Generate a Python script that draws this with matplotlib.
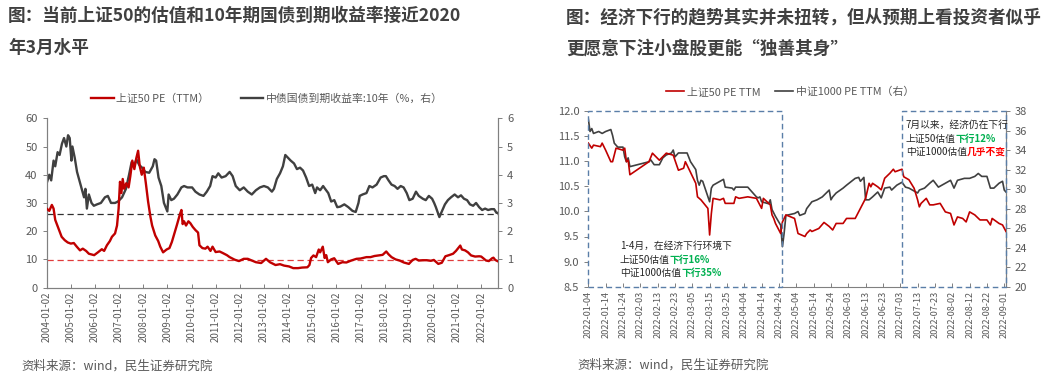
import matplotlib
matplotlib.use("Agg")
import matplotlib.pyplot as plt
import matplotlib.dates as mdates
from matplotlib.patches import Rectangle
import pandas as pd

plt.rcParams['font.family'] = ['Noto Sans CJK SC', 'DejaVu Sans']
plt.rcParams['axes.unicode_minus'] = False

# ---------------- Left chart data ----------------
pe50_dates = ["2004-01-02","2004-02-10","2004-03-20","2004-04-15","2004-05-10","2004-07-01","2004-08-15","2004-10-01",
              "2004-11-15","2005-01-01","2005-02-15","2005-04-01","2005-05-20","2005-07-01","2005-08-20","2005-10-01",
              "2005-12-20","2006-02-15","2006-04-15","2006-05-20","2006-07-01","2006-08-15","2006-09-15","2006-11-01",
              "2006-12-01","2006-12-25","2007-01-15","2007-02-05","2007-02-25","2007-03-20","2007-04-20","2007-05-25",
              "2007-06-20","2007-07-20","2007-08-20","2007-09-20","2007-10-16","2007-11-10","2007-12-10","2008-01-10",
              "2008-02-10","2008-03-15","2008-04-20","2008-05-15","2008-07-01","2008-08-15","2008-09-15","2008-10-28",
              "2008-12-20","2009-02-01","2009-03-10","2009-04-15","2009-05-25","2009-07-10","2009-08-01","2009-08-20",
              "2009-09-10","2009-10-10","2009-11-15","2009-12-15","2010-01-20","2010-03-01","2010-04-10","2010-05-01",
              "2010-06-15","2010-07-30","2010-09-01","2010-10-15","2010-11-15","2011-01-01","2011-03-01","2011-04-15",
              "2011-06-20","2011-08-01","2011-10-15","2011-12-20","2012-03-01","2012-05-01","2012-07-01","2012-09-01",
              "2012-11-20","2013-02-01","2013-04-01","2013-06-25","2013-09-01","2013-11-01","2014-01-15","2014-03-20",
              "2014-06-01","2014-08-01","2014-10-20","2014-11-20","2014-12-15","2015-01-20","2015-03-01","2015-04-10",
              "2015-05-01","2015-06-10","2015-07-08","2015-08-01","2015-08-26","2015-10-15","2015-11-30","2016-01-28",
              "2016-04-01","2016-06-01","2016-08-15","2016-11-01","2017-01-01","2017-04-01","2017-06-01","2017-08-01",
              "2017-10-01","2017-12-01","2018-01-25","2018-03-01","2018-04-15","2018-06-15","2018-08-15","2018-10-18",
              "2019-01-03","2019-03-01","2019-04-15","2019-06-01","2019-08-01","2019-10-01","2019-12-01","2020-01-15",
              "2020-03-23","2020-05-15","2020-07-08","2020-09-01","2020-11-01","2020-12-15","2021-02-18","2021-03-15",
              "2021-05-01","2021-06-15","2021-08-01","2021-10-01","2021-12-01","2022-01-01","2022-03-15","2022-04-26",
              "2022-06-15","2022-07-05","2022-08-01","2022-09-12"]
pe50_values = [28.0,27.2,29.3,28.0,24.0,20.8,18.0,16.8,
               16.0,15.6,15.8,14.5,13.2,13.8,13.0,12.0,
               11.5,12.5,13.6,13.0,15.0,16.5,18.0,19.2,
               22.0,28.0,37.5,33.5,38.5,35.0,37.0,35.5,
               39.5,45.0,42.0,46.0,48.5,43.0,40.0,42.5,
               37.0,30.5,25.0,22.0,18.5,16.5,14.5,12.5,
               13.5,14.0,16.2,19.0,22.2,26.0,27.5,22.5,
               23.5,22.0,23.5,22.8,21.5,20.4,19.5,15.0,
               14.0,13.8,14.5,13.0,14.5,12.6,12.8,12.3,
               11.5,10.8,9.9,9.4,10.2,10.2,9.6,9.0,
               8.7,10.2,9.0,8.0,8.3,7.8,7.5,6.9,
               6.9,7.1,7.2,8.0,10.5,11.4,10.8,13.5,
               12.5,14.5,10.5,11.5,9.0,10.0,10.4,8.4,
               9.0,8.9,9.6,10.2,10.3,10.8,10.8,11.2,
               11.4,11.6,12.8,11.8,10.8,10.0,9.6,8.9,
               8.4,9.8,10.2,9.6,9.7,9.7,9.5,9.8,
               8.4,8.8,11.1,11.5,12.0,13.0,14.9,13.5,
               13.2,12.5,11.4,11.0,11.1,11.0,9.6,9.4,
               10.4,10.6,9.8,9.3]

bond_dates = ["2004-01-02","2004-02-10","2004-03-10","2004-04-15","2004-05-10","2004-06-15","2004-07-15","2004-08-20",
              "2004-09-20","2004-10-25","2004-11-20","2004-12-15","2005-01-10","2005-01-25","2005-03-01","2005-04-05",
              "2005-05-10","2005-06-15","2005-07-20","2005-08-10","2005-09-01","2005-10-01","2005-11-10","2005-12-15",
              "2006-02-01","2006-04-01","2006-06-01","2006-07-15","2006-09-01","2006-11-01","2006-12-15","2007-02-15",
              "2007-04-15","2007-06-01","2007-07-10","2007-08-15","2007-09-20","2007-11-01","2007-12-15","2008-02-01",
              "2008-04-01","2008-05-25","2008-06-20","2008-07-15","2008-08-20","2008-10-01","2008-11-10","2008-12-31",
              "2009-01-20","2009-03-01","2009-04-10","2009-06-01","2009-08-01","2009-09-10","2009-11-01","2010-01-10",
              "2010-03-01","2010-05-01","2010-07-01","2010-08-20","2010-10-10","2010-11-15","2011-01-01","2011-02-10",
              "2011-04-01","2011-06-01","2011-08-01","2011-09-15","2011-11-01","2012-01-01","2012-03-01","2012-05-01",
              "2012-07-01","2012-09-01","2012-11-01","2013-01-01","2013-03-01","2013-05-01","2013-06-01","2013-07-15",
              "2013-09-01","2013-10-15","2013-11-20","2014-01-01","2014-02-10","2014-04-01","2014-05-15","2014-07-01",
              "2014-08-15","2014-10-01","2014-11-15","2015-01-01","2015-02-15","2015-03-15","2015-05-01","2015-06-15",
              "2015-07-15","2015-09-01","2015-10-15","2015-12-01","2016-01-15","2016-03-01","2016-05-01","2016-07-01",
              "2016-09-01","2016-10-20","2016-12-01","2016-12-20","2017-02-01","2017-04-01","2017-05-15","2017-07-01",
              "2017-09-01","2017-11-01","2017-12-20","2018-01-20","2018-03-01","2018-04-15","2018-06-01","2018-07-15",
              "2018-09-01","2018-10-15","2018-12-01","2019-01-10","2019-03-01","2019-04-20","2019-06-01","2019-08-01",
              "2019-09-15","2019-11-01","2019-12-20","2020-01-20","2020-02-15","2020-04-08","2020-05-15","2020-07-01",
              "2020-08-15","2020-10-01","2020-11-25","2021-01-15","2021-03-01","2021-04-15","2021-06-01","2021-07-15",
              "2021-09-01","2021-10-15","2021-12-01","2022-01-15","2022-03-01","2022-04-15","2022-06-01","2022-07-15",
              "2022-08-20","2022-09-12"]
bond_values = [3.7,4.0,3.8,4.5,4.3,4.8,4.7,5.1,
               5.3,5.0,5.4,5.3,4.5,5.0,4.6,4.1,
               3.8,3.5,3.2,3.5,2.8,3.3,3.0,2.9,
               2.95,3.0,3.2,3.25,3.0,3.0,3.05,3.2,
               3.5,4.0,4.45,4.3,4.55,4.35,4.25,4.1,
               4.07,4.3,4.55,4.5,3.9,3.6,3.0,2.7,
               3.3,3.1,3.15,3.3,3.55,3.6,3.55,3.55,
               3.4,3.3,3.25,3.4,3.6,3.95,3.9,4.05,
               3.9,3.95,4.1,3.95,3.6,3.45,3.55,3.4,
               3.3,3.45,3.55,3.6,3.55,3.4,3.5,3.85,
               4.05,4.3,4.7,4.6,4.5,4.4,4.2,4.25,
               4.15,3.9,3.6,3.65,3.35,3.55,3.45,3.6,
               3.5,3.35,3.05,3.1,2.85,2.87,2.95,2.85,
               2.72,2.68,3.0,3.25,3.3,3.35,3.6,3.55,
               3.65,3.9,3.95,3.95,3.8,3.65,3.6,3.5,
               3.6,3.55,3.35,3.1,3.15,3.4,3.25,3.15,
               3.1,3.25,3.15,3.0,2.85,2.5,2.7,2.95,
               3.1,3.2,3.3,3.2,3.27,3.15,3.1,2.95,
               2.9,3.0,2.85,2.75,2.8,2.75,2.78,2.78,
               2.65,2.65]

pe50_ref = 9.7
bond_ref = 2.62
left_tick_dates = [f"{y}-01-02" for y in range(2004, 2023)]

# ---------------- Right chart data ----------------
r_pe50_dates = ["2022-01-04","2022-01-06","2022-01-07","2022-01-11","2022-01-12","2022-01-14","2022-01-17","2022-01-18",
                "2022-01-20","2022-01-24","2022-01-25","2022-01-26","2022-01-27","2022-01-28","2022-02-08","2022-02-10",
                "2022-02-14","2022-02-16","2022-02-18","2022-02-22","2022-02-25","2022-02-28","2022-03-01","2022-03-02",
                "2022-03-07","2022-03-08","2022-03-10","2022-03-14","2022-03-15","2022-03-16","2022-03-17","2022-03-21",
                "2022-03-23","2022-03-24","2022-03-29","2022-03-30","2022-04-01","2022-04-06","2022-04-11","2022-04-14",
                "2022-04-15","2022-04-19","2022-04-20","2022-04-21","2022-04-22","2022-04-25","2022-04-26","2022-04-28",
                "2022-05-03","2022-05-05","2022-05-09","2022-05-10","2022-05-12","2022-05-13","2022-05-17","2022-05-20",
                "2022-05-23","2022-05-25","2022-05-27","2022-05-31","2022-06-02","2022-06-07","2022-06-10","2022-06-13",
                "2022-06-15","2022-06-16","2022-06-17","2022-06-20","2022-06-22","2022-06-24","2022-06-27","2022-06-29",
                "2022-06-30","2022-07-04","2022-07-05","2022-07-08","2022-07-11","2022-07-13","2022-07-14","2022-07-15",
                "2022-07-18","2022-07-20","2022-07-22","2022-07-26","2022-07-29","2022-08-01","2022-08-03","2022-08-05",
                "2022-08-08","2022-08-10","2022-08-12","2022-08-15","2022-08-18","2022-08-22","2022-08-24","2022-08-25",
                "2022-08-29","2022-08-31","2022-09-02"]
r_pe50_values = [11.36,11.26,11.32,11.29,11.36,11.22,10.99,10.99,
                 11.26,11.22,11.26,10.99,11.02,10.73,10.99,11.16,
                 11.02,11.09,11.16,11.12,10.82,10.86,10.99,10.92,
                 10.56,10.29,10.23,10.06,9.53,9.96,10.26,10.23,
                 10.26,10.16,10.16,10.29,10.26,10.29,10.26,10.06,
                 10.26,10.13,9.93,9.86,9.76,9.56,9.79,9.93,
                 9.86,9.56,9.50,9.56,9.63,9.60,9.66,9.78,
                 9.70,9.63,9.76,9.76,9.86,9.86,10.06,10.26,
                 10.56,10.49,10.56,10.49,10.43,10.66,10.76,10.84,
                 10.79,10.84,10.69,10.63,10.46,10.23,10.09,10.16,
                 10.26,10.13,10.13,10.16,9.99,9.96,9.73,9.89,
                 9.86,9.79,9.99,9.93,9.83,9.83,9.73,9.86,
                 9.76,9.73,9.60]

r_csi_dates = ["2022-01-04","2022-01-05","2022-01-06","2022-01-07","2022-01-10","2022-01-12","2022-01-14","2022-01-17",
               "2022-01-18","2022-01-19","2022-01-21","2022-01-24","2022-01-25","2022-01-26","2022-01-27","2022-01-28",
               "2022-02-08","2022-02-09","2022-02-11","2022-02-14","2022-02-16","2022-02-18","2022-02-21","2022-02-22",
               "2022-02-23","2022-02-25","2022-03-02","2022-03-04","2022-03-07","2022-03-08","2022-03-09","2022-03-10",
               "2022-03-11","2022-03-15","2022-03-16","2022-03-17","2022-03-21","2022-03-23","2022-03-24","2022-03-28",
               "2022-03-29","2022-03-30","2022-04-06","2022-04-11","2022-04-12","2022-04-13","2022-04-14","2022-04-18",
               "2022-04-19","2022-04-20","2022-04-22","2022-04-25","2022-04-26","2022-04-27","2022-04-28","2022-05-03",
               "2022-05-05","2022-05-06","2022-05-09","2022-05-10","2022-05-13","2022-05-16","2022-05-19","2022-05-23",
               "2022-05-24","2022-05-25","2022-05-27","2022-05-31","2022-06-02","2022-06-07","2022-06-09","2022-06-10",
               "2022-06-12","2022-06-13","2022-06-15","2022-06-17","2022-06-20","2022-06-22","2022-06-24","2022-06-27",
               "2022-06-28","2022-07-01","2022-07-04","2022-07-06","2022-07-08","2022-07-12","2022-07-13","2022-07-14",
               "2022-07-17","2022-07-20","2022-07-22","2022-07-25","2022-07-28","2022-08-01","2022-08-03","2022-08-05",
               "2022-08-09","2022-08-12","2022-08-15","2022-08-17","2022-08-19","2022-08-22","2022-08-24","2022-08-26",
               "2022-08-29","2022-08-31","2022-09-01","2022-09-02"]
r_csi_values = [37.2,35.9,36.2,35.7,35.9,35.7,35.9,36.1,
                35.5,34.7,34.3,34.3,33.3,32.8,33.2,32.3,
                32.8,33.0,32.5,32.5,33.2,33.5,33.7,34.0,
                33.3,33.7,33.7,32.8,32.0,30.9,30.4,30.9,
                30.8,28.7,30.1,30.4,30.8,31.0,30.2,30.1,
                29.9,30.2,30.2,29.2,29.1,29.2,28.7,28.5,
                28.9,27.9,27.2,26.3,24.1,25.5,27.3,27.5,
                27.7,27.3,27.5,28.0,28.7,28.9,29.2,29.9,
                28.9,29.2,29.6,30.1,30.4,31.1,31.2,30.8,
                31.2,28.9,28.9,29.2,29.7,29.1,30.1,30.2,
                29.9,30.4,30.7,30.2,30.1,29.7,29.6,29.9,
                30.1,30.6,30.9,30.2,30.5,30.9,30.1,30.9,
                31.1,31.1,31.3,31.6,31.3,31.3,30.1,30.1,
                30.6,30.8,29.9,29.7]

box1 = ("2022-01-04", "2022-04-26")
box2 = ("2022-07-04", "2022-09-02")
right_tick_dates = pd.date_range("2022-01-04", "2022-09-01", freq="10D")

RED = "#c00000"
GRAY = "#404040"
TXT = "#595959"
SPINE = "#808080"
BOX = "#5a7ea8"
GREEN = "#00b050"

W, H = 1053, 377
fig = plt.figure(figsize=(W / 100, H / 100), dpi=100)

def fx(px):
    return px / W

def fy(py):
    return 1 - py / H

# ---------- Titles ----------
title_kw = dict(fontsize=12.7, fontweight='bold', color='#404040', va='center', ha='left')
fig.text(fx(8), fy(16), "图：当前上证50的估值和10年期国债到期收益率接近2020", **title_kw)
fig.text(fx(8), fy(47.5), "年3月水平", **title_kw)
fig.text(fx(566), fy(17), "图：经济下行的趋势其实并未扭转，但从预期上看投资者似乎", **title_kw)
fig.text(fx(566), fy(49), "更愿意下注小盘股更能“独善其身”", **title_kw)

src_kw = dict(fontsize=9, color=TXT, va='center', ha='left')
fig.text(fx(21), fy(366), "资料来源：wind，民生证券研究院", **src_kw)
fig.text(fx(577), fy(365), "资料来源：wind，民生证券研究院", **src_kw)

# ---------- Left chart ----------
axL = fig.add_axes([fx(46.7), fy(287.6), fx(498 - 46.7), (287.6 - 118.3) / H])
axL2 = axL.twinx()
d_pe = pd.to_datetime(pe50_dates)
d_bd = pd.to_datetime(bond_dates)
l1, = axL.plot(d_pe, pe50_values, color=RED, lw=1.7, zorder=3, label="上证50 PE（TTM）")
l2, = axL2.plot(d_bd, bond_values, color=GRAY, lw=1.7, zorder=3, label="中债国债到期收益率:10年（%，右）")
axL.axhline(pe50_ref, color="#e03c3c", lw=0.9, ls=(0, (5, 3)), zorder=2)
axL2.axhline(bond_ref, color="#333333", lw=0.9, ls=(0, (5, 3)), zorder=2)
axL.set_ylim(0, 60)
axL.set_yticks(range(0, 61, 10))
axL2.set_ylim(0, 6)
axL2.set_yticks(range(0, 7))
axL.set_xlim(pd.Timestamp("2004-01-02"), pd.Timestamp("2022-09-12"))
axL.set_xticks(pd.to_datetime(left_tick_dates))
axL.set_xticklabels(left_tick_dates, rotation=90, fontsize=7, color=TXT)
for a in (axL, axL2):
    a.spines['top'].set_visible(False)
    for s in ('left', 'right', 'bottom'):
        a.spines[s].set_color(SPINE)
        a.spines[s].set_linewidth(0.8)
    a.tick_params(axis='y', labelsize=8, colors=TXT, length=3, width=0.7, direction='out', color=SPINE)
axL.tick_params(axis='x', length=3, width=0.7, direction='in', color=SPINE, pad=3)
axL.set_zorder(axL2.get_zorder() + 1)
axL.patch.set_visible(False)

fig.legend(handles=[l1, l2], loc='center', bbox_to_anchor=(fx(267), fy(99)), ncol=2, frameon=False,
           fontsize=7.8, handlelength=2.1, handletextpad=0.25, columnspacing=2.9, labelcolor=TXT)

# ---------- Right chart ----------
axR = fig.add_axes([fx(588.3), fy(286.7), fx(1006 - 588.3), (286.7 - 111) / H])
axR2 = axR.twinx()
rd_pe = pd.to_datetime(r_pe50_dates)
rd_csi = pd.to_datetime(r_csi_dates)
r1, = axR.plot(rd_pe, r_pe50_values, color=RED, lw=1.2, zorder=3, label="上证50 PE TTM")
r2, = axR2.plot(rd_csi, r_csi_values, color=GRAY, lw=1.2, zorder=3, label="中证1000 PE TTM（右）")
axR.set_ylim(8.5, 12.0)
axR.set_yticks([8.5, 9.0, 9.5, 10.0, 10.5, 11.0, 11.5, 12.0])
axR.yaxis.set_major_formatter(matplotlib.ticker.FormatStrFormatter('%.1f'))
axR2.set_ylim(20, 38)
axR2.set_yticks(range(20, 39, 2))
axR.set_xlim(pd.Timestamp("2022-01-04"), pd.Timestamp("2022-09-02"))
axR.set_xticks(right_tick_dates)
axR.set_xticklabels([d.strftime("%Y-%m-%d") for d in right_tick_dates], rotation=90, fontsize=6.6, color=TXT)
for a in (axR, axR2):
    a.spines['top'].set_visible(False)
    a.spines['left'].set_visible(False)
    a.spines['bottom'].set_visible(False)
    a.spines['right'].set_color(SPINE)
    a.spines['right'].set_linewidth(0.8)
    a.tick_params(axis='y', labelsize=8, colors=TXT, length=3, width=0.7, direction='out', color=SPINE)
axR.tick_params(axis='x', length=3, width=0.7, direction='in', color=SPINE, pad=3)
axR.set_zorder(axR2.get_zorder() + 1)
axR.patch.set_visible(False)

# bottom axis line between the boxes
b1s, b1e = mdates.date2num(pd.Timestamp(box1[0])), mdates.date2num(pd.Timestamp(box1[1]))
b2s, b2e = mdates.date2num(pd.Timestamp(box2[0])), mdates.date2num(pd.Timestamp(box2[1]))
axR.plot([b1e, b2s], [8.5, 8.5], color=SPINE, lw=0.8, clip_on=False, zorder=1)
for s, e in ((b1s, b1e), (b2s, b2e)):
    axR.add_patch(Rectangle((s, 8.5), e - s, 3.5, fill=False, ec=BOX, lw=1.0,
                            ls=(0, (4, 2.5)), clip_on=False, zorder=4))

fig.legend(handles=[r1, r2], loc='center', bbox_to_anchor=(fx(790), fy(92)), ncol=2, frameon=False,
           fontsize=7.8, handlelength=1.7, handletextpad=0.25, columnspacing=1.3, labelcolor=TXT)

# ---------- Annotations ----------
def two_color(px, py, t1, t2, c2, size=7):
    a = fig.text(fx(px), fy(py), t1, fontsize=size, color='#262626', ha='left', va='center')
    if t2:
        plt.annotate(t2, xy=(1, 0), xycoords=a, va='bottom', ha='left', fontsize=size,
                     color=c2, fontweight='bold', annotation_clip=False)

two_color(620, 246, "1-4月，在经济下行环境下", None, None)
two_color(620, 260, "上证50估值", "下行16%", GREEN)
two_color(620, 273, "中证1000估值", "下行35%", GREEN)
two_color(906, 125, "7月以来，经济仍在下行", None, None)
two_color(906, 139, "上证50估值", "下行12%", GREEN)
two_color(906, 152, "中证1000估值", "几乎不变", "#ff0000")

fig.savefig("out.png", dpi=100)
